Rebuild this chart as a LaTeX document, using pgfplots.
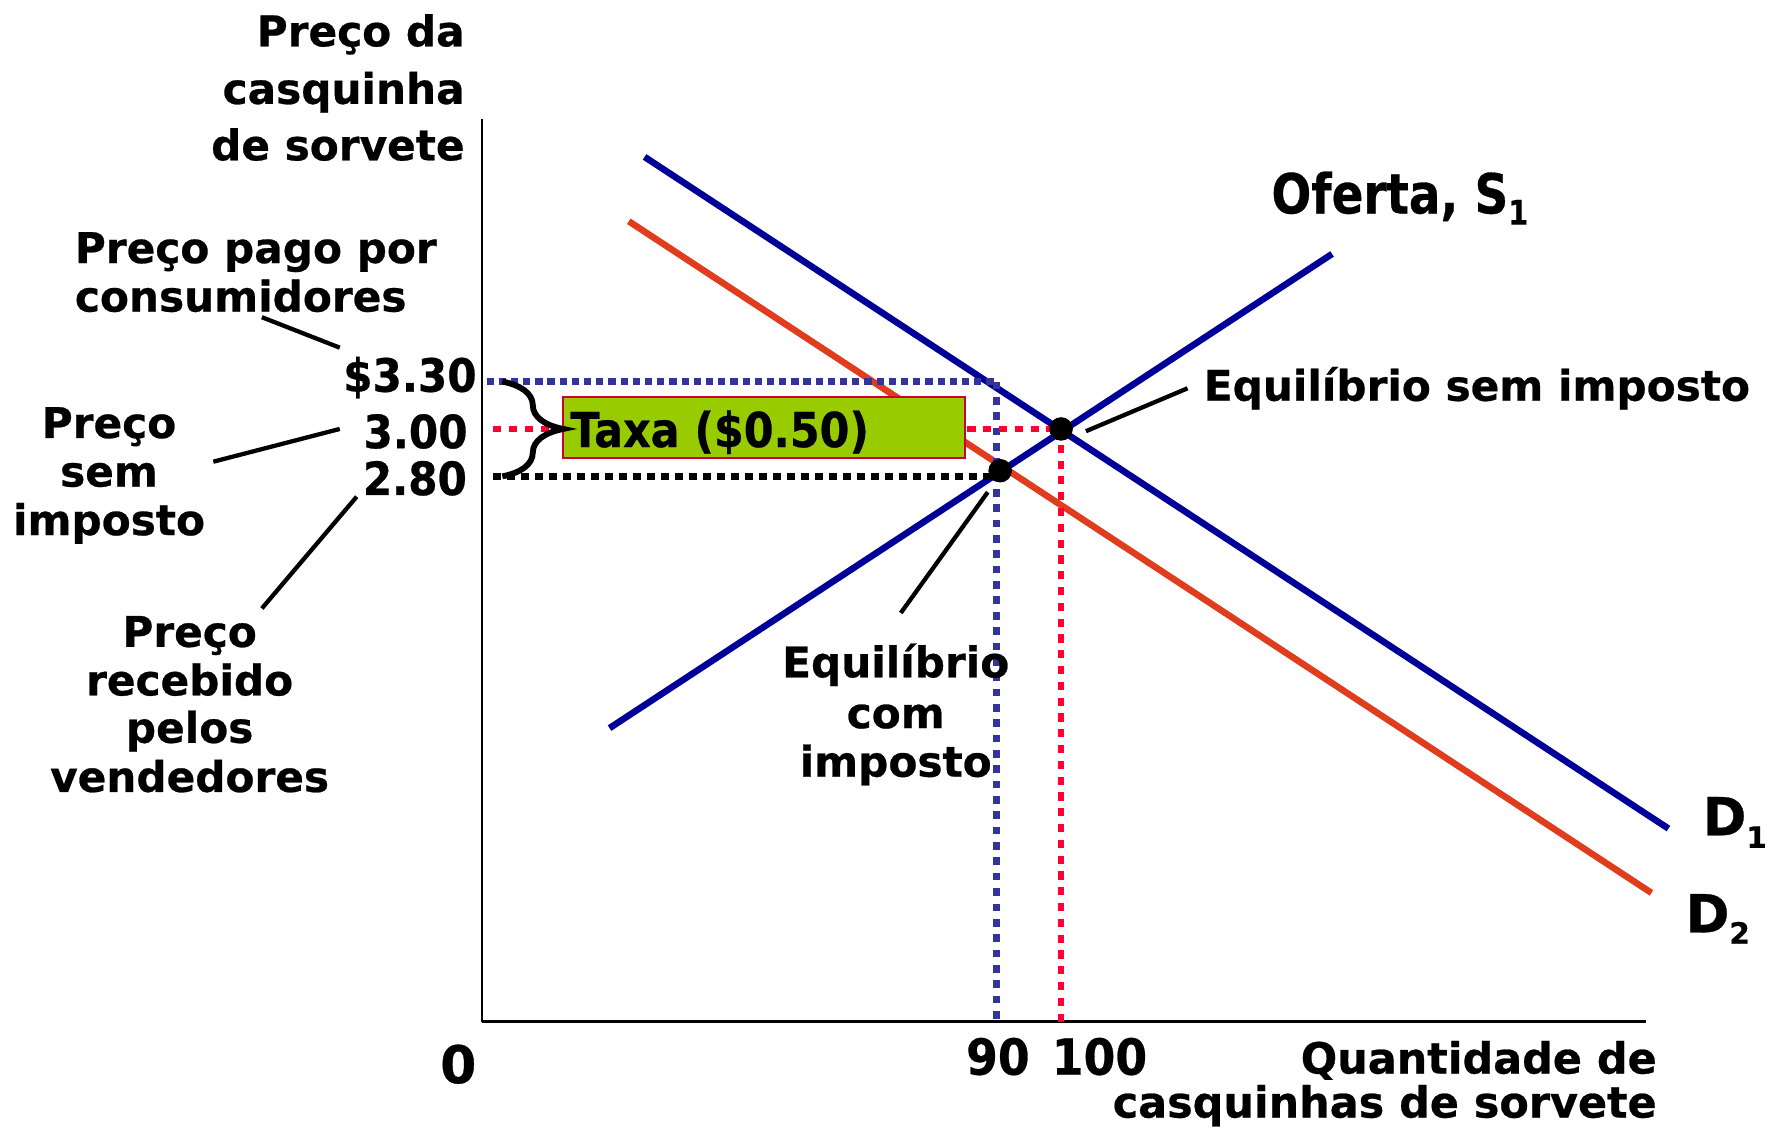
\documentclass[border=0pt]{standalone}
\usepackage{fontspec}
\setmainfont{DejaVu Sans}[BoldFeatures={FakeBold=0.6}]
\usepackage{graphicx}
\usepackage{pgfplots}
\pgfplotsset{compat=1.18}
\usetikzlibrary{decorations.pathreplacing}

\definecolor{sblue}{RGB}{0,0,153}
\definecolor{dred}{RGB}{224,60,30}
\definecolor{dotblue}{RGB}{51,51,153}
\definecolor{dotred}{RGB}{255,0,51}
\definecolor{taxgreen}{RGB}{153,204,0}
\definecolor{boxred}{RGB}{204,0,51}

\newcommand\V{\fontsize{18.7}{22}\selectfont\bfseries}
\newcommand\B[1]{\fontsize{#1}{#1}\selectfont\bfseries}

\begin{document}
\begin{tikzpicture}
\begin{axis}[
  x=0.5pt, y=0.5pt,
  xmin=0, xmax=1031, ymin=0, ymax=800,
  axis x line=bottom, axis y line=left,
  axis line style={-, line width=1pt, black},
  ticks=none,
  clip=false,
]
\coordinate (BL) at (axis cs:-427,-93);
\coordinate (TR) at (axis cs:1141,905);

% demand and supply curves
\addplot[sblue, line width=2.9pt] coordinates {(144,766) (1051,171)};
\addplot[dred, line width=2.9pt] coordinates {(130,709) (1036,114)};
\addplot[sblue, line width=2.9pt] coordinates {(113,260) (753,680)};

% dotted guide lines
\addplot[dotblue, line width=3pt, dash pattern=on 3.2pt off 2.2pt] coordinates {(4,567) (456,567)};
\addplot[dotblue, line width=3pt, dash pattern=on 3.4pt off 3.4pt] coordinates {(456,567) (456,0)};
\addplot[dotred, line width=3pt, dash pattern=on 3.6pt off 3.4pt] coordinates {(10,525) (513,525)};
\addplot[dotred, line width=3pt, dash pattern=on 3.6pt off 3.4pt] coordinates {(513,525) (513,0)};
\addplot[black, line width=3pt, dash pattern=on 3.4pt off 2.8pt] coordinates {(10,483) (458,483)};

% tax box
\draw[fill=taxgreen, draw=boxred, line width=0.8pt] (axis cs:72,499.5) rectangle (axis cs:428,553);
\node[anchor=base west, inner sep=0] at (axis cs:78,509) {\scalebox{0.89}[1]{\B{21.3}Taxa (\$0.50)}};

% brace
\draw[decorate, decoration={brace, amplitude=27pt}, line width=2.6pt] (axis cs:18,567) -- (axis cs:18,483);

% equilibrium points
\addplot[only marks, mark=*, mark size=5pt, black] coordinates {(513,525) (459,488)};

% pointer lines
\draw[line width=1.9pt] (axis cs:535,523) -- (axis cs:625,561);
\draw[line width=1.9pt] (axis cs:371,362) -- (axis cs:448,469);
\draw[line width=1.9pt] (axis cs:-195,624) -- (axis cs:-126,597);
\draw[line width=1.9pt] (axis cs:-238,496) -- (axis cs:-126,525);
\draw[line width=1.9pt] (axis cs:-195,366) -- (axis cs:-111,465);

% y axis title
\node[anchor=base east, inner sep=0] at (axis cs:-15,864) {\V Preço da};
\node[anchor=base east, inner sep=0] at (axis cs:-15,813) {\V casquinha};
\node[anchor=base east, inner sep=0] at (axis cs:-15,763) {\V de sorvete};

% left annotations
\node[anchor=base west, inner sep=0] at (axis cs:-361,672) {\V Preço pago por};
\node[anchor=base west, inner sep=0] at (axis cs:-361,629) {\V consumidores};

\node[anchor=base, inner sep=0] at (axis cs:-330.4,517) {\V Preço};
\node[anchor=base, inner sep=0] at (axis cs:-330.4,474) {\V sem};
\node[anchor=base, inner sep=0] at (axis cs:-330.4,431) {\V imposto};

\node[anchor=base, inner sep=0] at (axis cs:-259,332) {\V Preço};
\node[anchor=base, inner sep=0] at (axis cs:-259,289) {\V recebido};
\node[anchor=base, inner sep=0] at (axis cs:-259,247) {\V pelos};
\node[anchor=base, inner sep=0] at (axis cs:-259,203.5) {\V vendedores};

% price labels
\node[anchor=base east, inner sep=0] at (axis cs:-4.4,558) {\scalebox{0.92}[1]{\B{20.3}\$3.30}};
\node[anchor=base east, inner sep=0] at (axis cs:-12.4,508) {\scalebox{0.92}[1]{\B{20.3}3.00}};
\node[anchor=base east, inner sep=0] at (axis cs:-13,466.5) {\scalebox{0.92}[1]{\B{20.3}2.80}};

% curve labels
\node[anchor=base west, inner sep=0] at (axis cs:699,716) {\scalebox{0.85}[1]{\B{24.4}Oferta, S\raisebox{-5pt}{\B{15}1}}};
\node[anchor=base west, inner sep=0] at (axis cs:639,550) {\V Equilíbrio sem imposto};

\node[anchor=base, inner sep=0] at (axis cs:366.5,305) {\V Equilíbrio};
\node[anchor=base, inner sep=0] at (axis cs:366.5,260) {\V com};
\node[anchor=base, inner sep=0] at (axis cs:366.5,217) {\V imposto};

\node[anchor=base west, inner sep=0] at (axis cs:1081,165) {\B{23.3}D\raisebox{-5.5pt}{\B{13}1}};
\node[anchor=base west, inner sep=0] at (axis cs:1066,79) {\B{23.3}D\raisebox{-5pt}{\B{13}2}};

% x axis labels
\node[anchor=base, inner sep=0] at (axis cs:-21,-54.5) {\B{23}0};
\node[anchor=base, inner sep=0] at (axis cs:457,-47) {\scalebox{0.92}[1]{\B{22}90}};
\node[anchor=base, inner sep=0] at (axis cs:547,-47) {\scalebox{0.92}[1]{\B{22}100}};
\node[anchor=base east, inner sep=0] at (axis cs:1041,-46) {\B{19}Quantidade de};
\node[anchor=base east, inner sep=0] at (axis cs:1041,-85) {\B{19}casquinhas de sorvete};
\end{axis}
\pgfresetboundingbox
\useasboundingbox (BL) rectangle (TR);
\end{tikzpicture}
\end{document}
